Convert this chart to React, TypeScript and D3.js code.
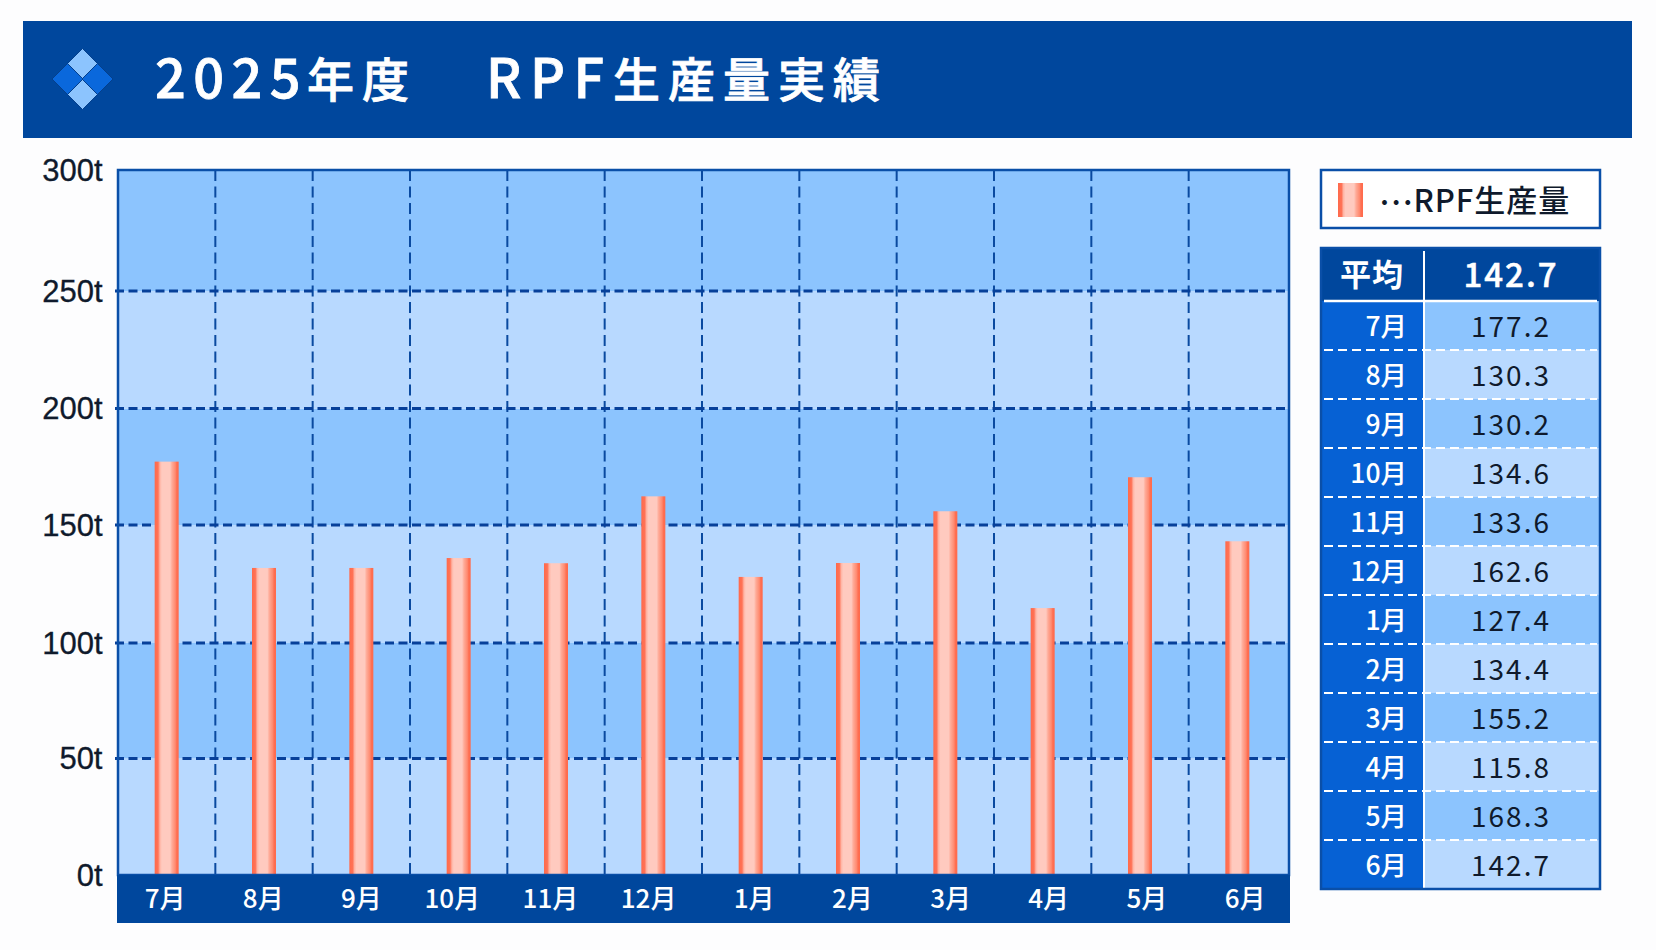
import React from "react";
import * as d3 from "d3";

const months = ["7月", "8月", "9月", "10月", "11月", "12月", "1月", "2月", "3月", "4月", "5月", "6月"];
const barValues = [177.2, 131.8, 131.8, 136, 133.8, 162.3, 128, 133.9, 155.9, 114.8, 170.5, 143.1];
const tableText = ["177.2", "130.3", "130.2", "134.6", "133.6", "162.6", "127.4", "134.4", "155.2", "115.8", "168.3", "142.7"];
const yTicks = [0, 50, 100, 150, 200, 250, 300];
const averageText = "142.7";

const W = 1656, H = 950;
const NAVY = "#00479d";
const BLUE = "#0661d4";
const DARKBAND = "#8cc4fe";
const LIGHTBAND = "#b8d9ff";
const INK = "#0f1a2c";
const JP = "'Noto Sans CJK JP', 'Noto Sans', sans-serif";

const plot = { l: 118, r: 1289, t: 170, b: 875 };
const y = d3.scaleLinear().domain(yTicks).range([875, 758.5, 643, 525, 408.5, 291, 170]);
const x = d3.scaleBand<string>().domain(months).range([118, 1286]);
const labelRight = d3.scalePoint<string>().domain(months).range([185.5, 1265.5]);

const table = { l: 1321, r: 1600, t: 248, head: 301, b: 889, split: 1424 };
const rowY = d3.scaleBand<string>().domain(months).range([table.head, table.b]);

const BAR_W = 24;

const stops: [string, string][] = [
  ["0%", "#ff6a4b"], ["14%", "#ff7256"], ["22%", "#ffb5a5"], ["30%", "#ffcabf"],
  ["64%", "#ffcabf"], ["72%", "#ffab98"], ["86%", "#ff8a70"], ["92%", "#ff6f52"], ["100%", "#ff6a4b"],
];

function Diamond({ cx, cy, r, fill }: { cx: number; cy: number; r: number; fill: string }) {
  return <path d={`M${cx},${cy - r}L${cx + r},${cy}L${cx},${cy + r}L${cx - r},${cy}Z`} fill={fill} stroke="#043f8c" strokeWidth={1} />;
}

export default function App() {
  return (
    <svg width={W} height={H} viewBox={`0 0 ${W} ${H}`} style={{ position: "absolute", left: 0, top: 0, display: "block" }} fontFamily={JP}>
      <defs>
        <linearGradient id="bar" x1="0" x2="1" y1="0" y2="0">
          {stops.map(([o, c]) => <stop key={o} offset={o} stopColor={c} />)}
        </linearGradient>
      </defs>
      <rect width={W} height={H} fill="#fdfdfe" />

      {/* header */}
      <rect x={23} y={21} width={1609} height={117} fill={NAVY} />
      <Diamond cx={82.5} cy={64} r={15.5} fill="#8cc4fe" />
      <Diamond cx={82.5} cy={94} r={15.5} fill="#8cc4fe" />
      <Diamond cx={67.5} cy={79} r={15.5} fill="#0a68dc" />
      <Diamond cx={97.5} cy={79} r={15.5} fill="#0a68dc" />
      <g fill="#fff" stroke="#fff" strokeWidth={0.8} fontSize={47} fontWeight={500}>
        <text x={155} y={98} fontSize={54} letterSpacing={7.5}>2025</text>
        <text x={307} y={97} letterSpacing={8}>年度</text>
        <text x={486} y={98} fontSize={54} letterSpacing={8.5}>RPF</text>
        <text x={613} y={97} letterSpacing={8}>生産量実績</text>
      </g>

      {/* plot bands */}
      {yTicks.slice(0, -1).map((t, i) => (
        <rect key={t} x={plot.l} y={y(t + 50)} width={plot.r - plot.l} height={y(t) - y(t + 50)} fill={i % 2 === 0 ? LIGHTBAND : DARKBAND} />
      ))}
      {/* vertical grid */}
      {months.slice(1).map((m) => (
        <line key={m} x1={x(m)!} x2={x(m)!} y1={plot.t} y2={plot.b} stroke="#0a4aa0" strokeWidth={2} strokeDasharray="11 5.5" />
      ))}
      {/* horizontal grid */}
      {yTicks.slice(1, -1).map((t) => (
        <line key={t} x1={plot.l - 3} x2={plot.r} y1={y(t)} y2={y(t)} stroke="#07409a" strokeWidth={2.8} strokeDasharray="9 4.5" />
      ))}
      {/* bars */}
      {months.map((m, i) => (
        <rect key={m} x={x(m)! + x.bandwidth() / 2 - BAR_W / 2} y={y(barValues[i])} width={BAR_W} height={plot.b - y(barValues[i])} fill="url(#bar)" />
      ))}
      <rect x={plot.l} y={plot.t} width={plot.r - plot.l} height={plot.b - plot.t} fill="none" stroke="#0a4fa8" strokeWidth={2.5} />

      {/* x axis band */}
      <rect x={117} y={plot.b} width={1173} height={48} fill={NAVY} />
      {months.map((m) => (
        <text key={m} x={labelRight(m)!} y={908} textAnchor="end" fill="#fff" fontSize={26} fontWeight={500}>{m}</text>
      ))}
      {/* y labels */}
      {yTicks.map((t) => (
        <text key={t} x={102.5} y={y(t) + 10.5} textAnchor="end" fill={INK} fontSize={31} stroke={INK} strokeWidth={0.3} fontFamily="'Liberation Sans', sans-serif">{`${t}t`}</text>
      ))}

      {/* legend */}
      <rect x={1321} y={170} width={279} height={58} fill="#fff" stroke="#0a4fa8" strokeWidth={2.5} />
      <rect x={1338} y={183} width={25} height={34} fill="url(#bar)" />
      <text x={1379} y={212} fill={INK} fontSize={31} fontWeight={500} letterSpacing={1}>
        <tspan dy={-7}>⋯</tspan><tspan dy={7}>RPF生産量</tspan>
      </text>

      {/* table */}
      <rect x={table.l} y={table.t} width={table.r - table.l} height={table.head - table.t} fill={NAVY} />
      <rect x={table.l} y={table.head} width={table.split - table.l} height={table.b - table.head} fill={BLUE} />
      {months.map((m, i) => (
        <rect key={m} x={table.split} y={rowY(m)!} width={table.r - table.split} height={rowY.bandwidth()} fill={i % 2 === 0 ? DARKBAND : LIGHTBAND} />
      ))}
      <text x={1372} y={286} textAnchor="middle" fill="#fff" fontSize={31} fontWeight={700} letterSpacing={1}>平均</text>
      <text x={1511} y={287} textAnchor="middle" fill="#fff" fontSize={33} fontWeight={500} stroke="#fff" strokeWidth={0.5} letterSpacing={2}>{averageText}</text>
      {months.map((m, i) => (
        <g key={m}>
          <text x={1407} y={rowY(m)! + rowY.bandwidth() / 2 + 10.5} textAnchor="end" fill="#fff" fontSize={26.5} fontWeight={500}>{m}</text>
          <text x={1511} y={rowY(m)! + rowY.bandwidth() / 2 + 11.5} textAnchor="middle" fill={INK} fontSize={28} letterSpacing={2}>{tableText[i]}</text>
        </g>
      ))}
      {months.slice(1).map((m) => (
        <line key={m} x1={table.l + 3} x2={table.r - 3} y1={rowY(m)!} y2={rowY(m)!} stroke="#fff" strokeWidth={2} strokeDasharray="9 5" />
      ))}
      <line x1={table.l + 3} x2={table.r - 3} y1={table.head} y2={table.head} stroke="#fff" strokeWidth={2.5} />
      <line x1={table.split} x2={table.split} y1={table.t + 3} y2={table.b} stroke="#fff" strokeWidth={2} />
      <rect x={table.l} y={table.t} width={table.r - table.l} height={table.b - table.t} fill="none" stroke="#0a4fa8" strokeWidth={2.5} />
    </svg>
  );
}
